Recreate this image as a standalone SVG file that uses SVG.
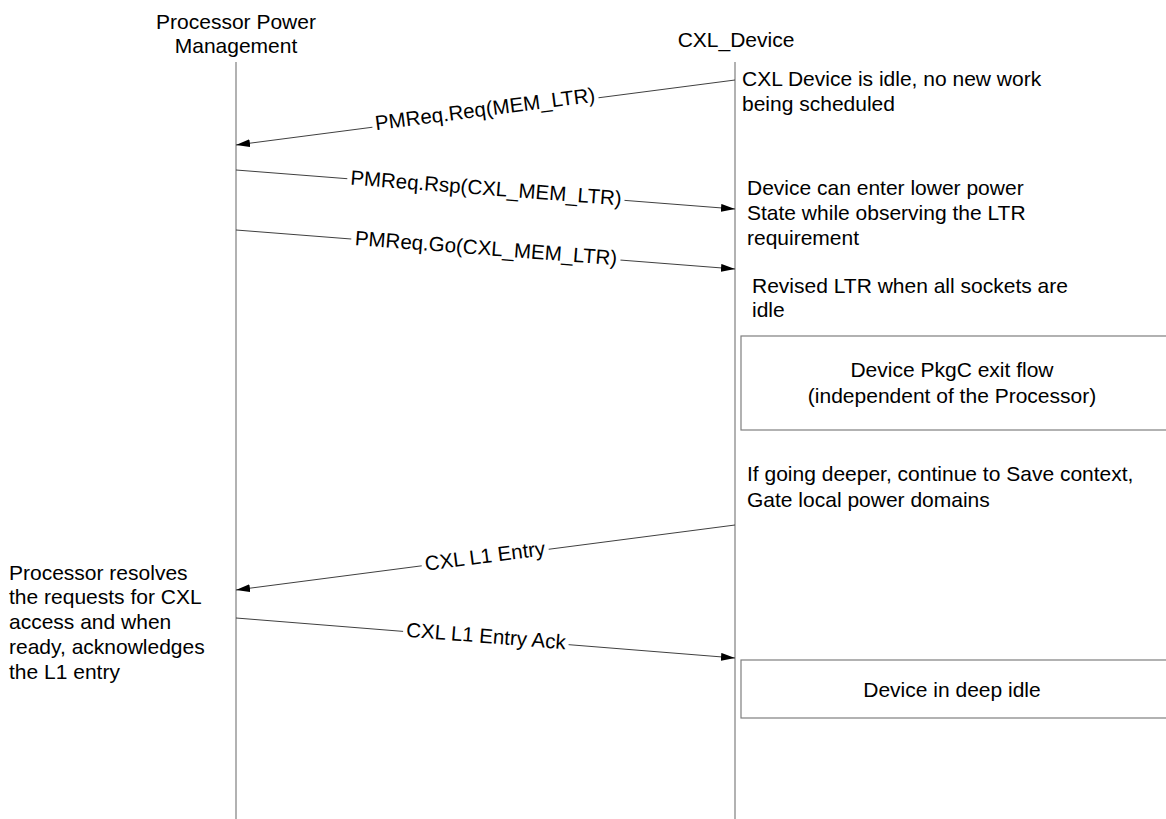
<svg xmlns="http://www.w3.org/2000/svg" width="1166" height="819" viewBox="0 0 1166 819">
<defs>
<marker id="ah" markerWidth="14" markerHeight="8" refX="14" refY="4" orient="auto" markerUnits="userSpaceOnUse">
<path d="M0,0 L14,4 L0,8 Z" fill="#000"/>
</marker>
<style>
text{font-family:"Liberation Sans","Open Sans",sans-serif;font-size:21px;fill:#000}
.life{stroke:#7f7f7f;stroke-width:1.2;fill:none}
.msg{stroke:#404040;stroke-width:1;fill:none;marker-end:url(#ah)}
.lbl{text-anchor:middle}
.ml{font-size:20.5px}
.bg{fill:#fff}
.box{fill:#fff;stroke:#7f7f7f;stroke-width:1.2}
</style>
</defs>
<rect width="1166" height="819" fill="#fff"/>
<g id="ppm">
<text x="236" y="29" class="lbl">Processor Power</text>
<text x="236" y="53" class="lbl">Management</text>
<line class="life" x1="236" y1="62" x2="236" y2="819"/>
</g>
<g id="cxl">
<text x="736" y="47" class="lbl">CXL_Device</text>
<line class="life" x1="735" y1="62" x2="735" y2="819"/>
</g>
<g id="connectors">
<line class="msg" x1="735" y1="80" x2="236" y2="145"/>
<line class="msg" x1="236" y1="170" x2="735" y2="209"/>
<line class="msg" x1="236" y1="230" x2="735" y2="269"/>
<line class="msg" x1="735" y1="525" x2="236" y2="590"/>
<line class="msg" x1="236" y1="618" x2="735" y2="658"/>
<g transform="translate(485,109) rotate(-7.4)"><rect class="bg" x="-114" y="-12" width="228" height="24"/><text class="lbl ml" x="0" y="7">PMReq.Req(MEM_LTR)</text></g>
<g transform="translate(486,188) rotate(4.4)"><rect class="bg" x="-139" y="-12" width="278" height="24"/><text class="lbl ml" x="0" y="7">PMReq.Rsp(CXL_MEM_LTR)</text></g>
<g transform="translate(486,248) rotate(4.4)"><rect class="bg" x="-135" y="-12" width="270" height="24"/><text class="lbl ml" x="0" y="7">PMReq.Go(CXL_MEM_LTR)</text></g>
<g transform="translate(485,556) rotate(-7.4)"><rect class="bg" x="-64" y="-12" width="128" height="24"/><text class="lbl ml" x="0" y="7">CXL L1 Entry</text></g>
<g transform="translate(486,636) rotate(4.5)"><rect class="bg" x="-83" y="-12" width="166" height="24"/><text class="lbl ml" x="0" y="7">CXL L1 Entry Ack</text></g>
</g>
<g id="note1">
<text x="742" y="86">CXL Device is idle, no new work</text>
<text x="742" y="111">being scheduled</text>
</g>
<g id="note2">
<text x="747" y="195">Device can enter lower power</text>
<text x="747" y="220">State while observing the LTR</text>
<text x="747" y="245">requirement</text>
</g>
<g id="note3">
<text x="752" y="293">Revised LTR when all sockets are</text>
<text x="752" y="317">idle</text>
</g>
<g id="box1">
<rect class="box" x="741" y="336" width="440" height="94"/>
<text x="952" y="377" class="lbl">Device PkgC exit flow</text>
<text x="952" y="403" class="lbl">(independent of the Processor)</text>
</g>
<g id="note4">
<text x="747" y="481">If going deeper, continue to Save context,</text>
<text x="747" y="507">Gate local power domains</text>
</g>
<g id="note5">
<text x="9" y="580">Processor resolves</text>
<text x="9" y="604">the requests for CXL</text>
<text x="9" y="629">access and when</text>
<text x="9" y="654">ready, acknowledges</text>
<text x="9" y="679">the L1 entry</text>
</g>
<g id="box2">
<rect class="box" x="741" y="660" width="440" height="58"/>
<text x="952" y="697" class="lbl">Device in deep idle</text>
</g>
</svg>
